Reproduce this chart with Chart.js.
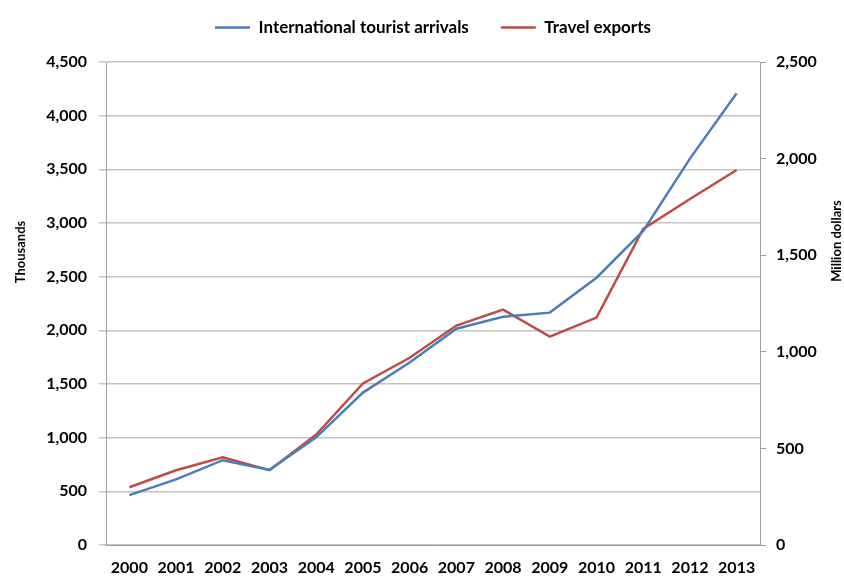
<!DOCTYPE html>
<html>
<head>
<meta charset="utf-8">
<script src="https://cdn.jsdelivr.net/npm/chart.js@4/dist/chart.umd.min.js"></script>
<style>
  html, body { margin: 0; padding: 0; background: #fff; }
  #wrap { width: 844px; height: 578px; }
</style>
</head>
<body>
<div id="wrap"><canvas id="myChart"></canvas></div>
<script>
const years = ["2000","2001","2002","2003","2004","2005","2006","2007","2008","2009","2010","2011","2012","2013"];
// thousands
const arrivals = [465, 612, 790, 700, 1003, 1420, 1700, 2015, 2127, 2165, 2490, 2926, 3600, 4208];
// million dollars
const travelExports = [299, 387, 454, 387, 572, 836, 969, 1136, 1218, 1079, 1177, 1636, 1791, 1941];
const leftTicks = [0, 500, 1000, 1500, 2000, 2500, 3000, 3500, 4000, 4500];
const rightTicks = [0, 500, 1000, 1500, 2000, 2500];

const FONT = "Lato";
const gridGray = "#c4c4c4";
const axisGray = "#a0a0a0";
const fmt = v => v.toLocaleString("en-US");

// both axis titles read bottom-to-top and sit a little above the middle
const axisTitles = {
    id: "axisTitles",
    afterDraw(chart) {
        const ctx = chart.ctx;
        const put = (text, x, y) => {
            ctx.save();
            ctx.translate(x, y);
            ctx.rotate(-Math.PI / 2);
            ctx.textAlign = "center";
            ctx.textBaseline = "middle";
            ctx.fillStyle = "#000";
            ctx.font = "bold 13px " + FONT;
            ctx.fillText(text, 0, 0);
            ctx.restore();
        };
        put("Thousands", 21, 252);
        put("Million dollars", 837, 241);
    }
};

// more room between the legend and the plot
const legendGap = {
    id: "legendGap",
    beforeInit(chart) {
        const fit = chart.legend.fit;
        chart.legend.fit = function () {
            fit.bind(chart.legend)();
            this.height += 16;
        };
    }
};

let mychart = document.getElementById("myChart").getContext("2d");
let tourismChart = new Chart(mychart, {
    type: "line",
    data: {
        labels: years,
        datasets: [{
            label: "International tourist arrivals",
            data: arrivals,
            borderColor: "#4a7ebb",
            backgroundColor: "#4a7ebb",
            borderWidth: 2.5,
            pointRadius: 0,
            tension: 0,
            yAxisID: "y"
        }, {
            label: "Travel exports",
            data: travelExports,
            borderColor: "#be4b48",
            backgroundColor: "#be4b48",
            borderWidth: 2.5,
            pointRadius: 0,
            tension: 0,
            yAxisID: "y1"
        }]
    },
    options: {
        responsive: true,
        maintainAspectRatio: false,
        animation: false,
        layout: { padding: { top: -13, bottom: 0, left: 0, right: 0 } },
        plugins: {
            tooltip: { enabled: false },
            legend: {
                display: true,
                position: "top",
                fullSize: false,
                labels: {
                    usePointStyle: true,
                    pointStyle: "line",
                    pointStyleWidth: 35,
                    boxHeight: 3,
                    padding: 32,
                    color: "#000",
                    font: { family: FONT, size: 17, weight: "bold" }
                }
            }
        },
        scales: {
            x: {
                offset: true,
                grid: { display: false },
                border: { display: true, color: axisGray, width: 1 },
                ticks: {
                    color: "#000",
                    padding: 5,
                    maxRotation: 0,
                    font: { family: FONT, size: 16, weight: "bold" }
                },
                afterFit(scale) { scale.height = 33; }
            },
            y: {
                position: "left",
                min: 0,
                max: 4500,
                afterBuildTicks(scale) { scale.ticks = leftTicks.map(v => ({ value: v })); },
                grid: { color: gridGray, lineWidth: 1.5, tickLength: 7 },
                border: { display: true, color: axisGray, width: 1 },
                ticks: {
                    color: "#000",
                    padding: 12,
                    font: { family: FONT, size: 16, weight: "bold" },
                    callback: v => fmt(v)
                },
                afterFit(scale) { scale.width = 106; }
            },
            y1: {
                position: "right",
                min: 0,
                max: 2500,
                afterBuildTicks(scale) { scale.ticks = rightTicks.map(v => ({ value: v })); },
                grid: { drawOnChartArea: false, color: axisGray, tickLength: 6 },
                border: { display: true, color: axisGray, width: 1 },
                ticks: {
                    color: "#000",
                    padding: 10,
                    font: { family: FONT, size: 16, weight: "bold" },
                    callback: v => fmt(v)
                },
                afterFit(scale) { scale.width = 84; }
            }
        }
    },
    plugins: [axisTitles, legendGap]
});
</script>
</body>
</html>
